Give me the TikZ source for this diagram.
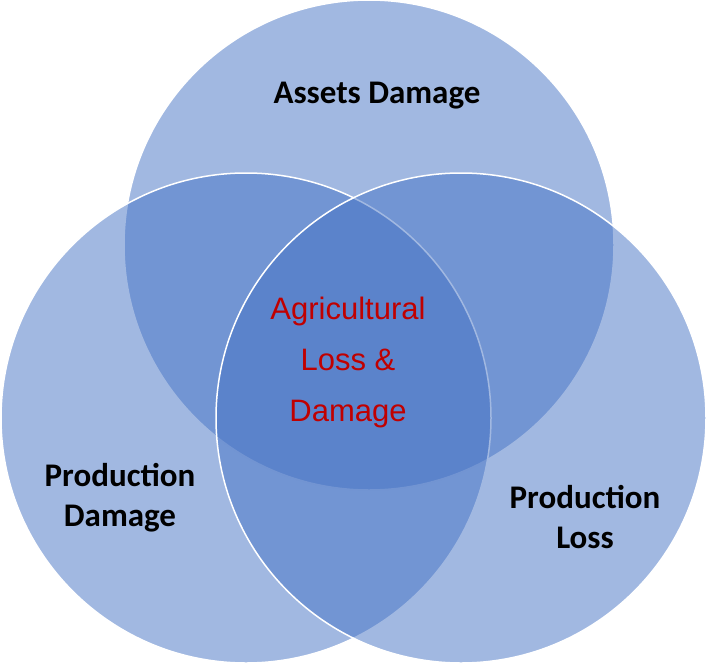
\documentclass[tikz,border=0pt]{standalone}
\usepackage{fontspec}
\setmainfont{Carlito}
\newfontfamily\redfont{Liberation Sans}
\definecolor{setblue}{HTML}{4472C4}
\definecolor{lossred}{HTML}{C00000}
\tikzset{
  setcircle/.style={fill=setblue, fill opacity=0.5, draw=white, line width=1.5pt},
  setlabel/.style={font=\bfseries\fontsize{33}{40}\selectfont, align=center, text=black},
  corelabel/.style={font=\redfont\fontsize{31}{51}\selectfont, align=center, text=lossred}
}
\begin{document}
\begin{tikzpicture}[x=1pt,y=-1pt]
	\useasboundingbox (0,0) rectangle (707,664);
	% three sets
	\path[setcircle] (369,245) circle[radius=245pt];
	\path[setcircle] (246,418) circle[radius=245pt];
	\path[setcircle] (461,418) circle[radius=245pt];

	\node[setlabel] (assets) at (377,96) {Assets Damage};
	\node[setlabel] (proddamage) at (120,498) {Production\\Damage};
	\node[setlabel] (prodloss) at (585,517) {Production\\Loss};
	\node[corelabel] (core) at (348,362) {Agricultural\\Loss \&\\Damage};
\end{tikzpicture}
\end{document}
